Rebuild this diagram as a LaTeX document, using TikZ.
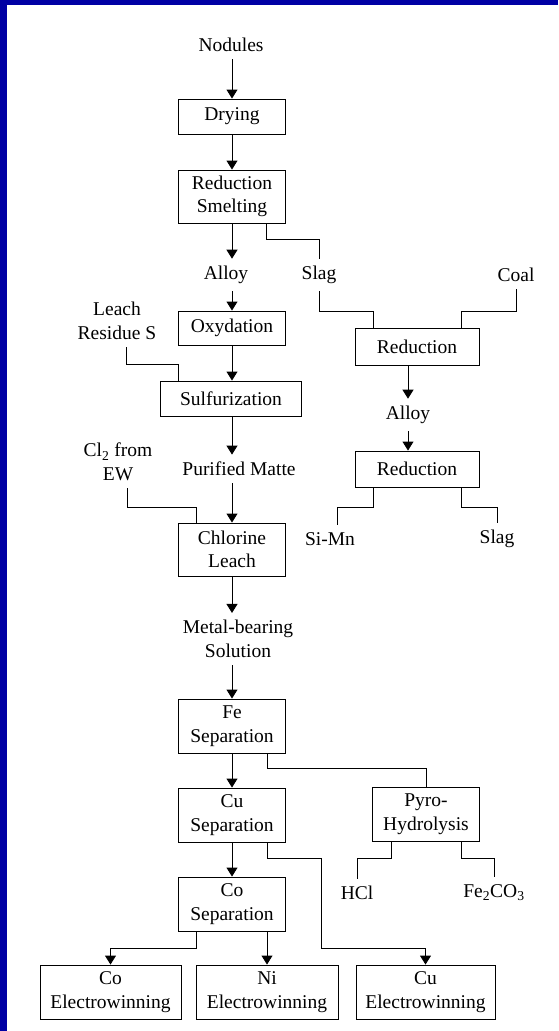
\documentclass[tikz,border=0pt]{standalone}
\usepackage{fontspec}
\setmainfont{Liberation Serif}
\usetikzlibrary{arrows.meta}
\definecolor{frameblue}{RGB}{0,0,164}

\begin{document}
\begin{tikzpicture}[x=1pt,y=-1pt,
  font=\fontsize{19.5}{23.5}\selectfont,
  line width=0.9pt,
  >={Triangle[width=11pt,length=9pt]},
  box/.style={draw,rectangle,align=center,inner sep=0pt,minimum width=107pt,minimum height=54pt},
  txt/.style={align=center,inner sep=7pt}]
  \useasboundingbox (0,0) rectangle (558,1031);
  \fill[frameblue] (0,0) rectangle (7,1031);
  \fill[frameblue] (0,0) rectangle (558,5);

  \node[txt] (Nodules) at (231,45) {Nodules};
  \node[box,minimum height=35pt] (Drying) at (232,116.5) {Drying};
  \node[box,minimum height=53pt] (RedSmelt) at (232,196.5) {Reduction\\Smelting};
  \node[txt] (Alloy1) at (226,275) {Alloy};
  \node[txt] (Slag1) at (319,275) {Slag};
  \node[txt] (Coal) at (516,275) {Coal};
  \node[box,minimum height=34pt] (Oxyd) at (232,328) {Oxydation};
  \node[txt] (Leach) at (117,321) {Leach\\Residue S};
  \node[box,minimum width=141pt,minimum height=35pt] (Sulf) at (231,398.5) {Sulfurization};
  \node[txt] (Matte) at (239,469) {Purified Matte};
  \node[txt] (Cl2) at (118,462) {Cl\textsubscript{2} from\\EW};
  \node[box,minimum height=53pt] (Chlor) at (232,549.5) {Chlorine\\Leach};
  \node[txt] (Metal) at (238,639) {Metal-bearing\\Solution};

  \node[box,minimum width=124pt,minimum height=37pt] (RedA) at (417,346.5) {Reduction};
  \node[txt] (Alloy2) at (408,415) {Alloy};
  \node[box,minimum width=124pt,minimum height=36pt] (RedB) at (417,469) {Reduction};
  \node[txt] (SiMn) at (330,539) {Si-Mn};
  \node[txt] (Slag2) at (497,539) {Slag};

  \node[box] (FeSep) at (232,726) {Fe\\Separation};
  \node[box] (CuSep) at (232,815) {Cu\\Separation};
  \node[box] (CoSep) at (232,904) {Co\\Separation};
  \node[box] (Pyro) at (426,814) {Pyro-\\Hydrolysis};
  \node[txt] (HCl) at (357,893) {HCl};
  \node[txt] (FeCO) at (494,893) {Fe\textsubscript{2}CO\textsubscript{3}};
  \node[box,minimum width=141pt] (CoEW) at (110.5,992) {Co\\Electrowinning};
  \node[box,minimum width=142pt] (NiEW) at (267,992) {Ni\\Electrowinning};
  \node[box,minimum width=139pt] (CuEW) at (425.5,992) {Cu\\Electrowinning};

  \draw[->] (Drying.north |- Nodules.south) -- (Drying.north);
  \draw[->] (Drying.south) -- (RedSmelt.north);
  \draw[->] (RedSmelt.south) -- (RedSmelt.south |- Alloy1.north);
  \draw ([xshift=34pt]RedSmelt.south) -- ++(0,16) -| (Slag1.north);
  \draw[->] (Oxyd.north |- Alloy1.south) -- (Oxyd.north);
  \draw (Slag1.south) |- (373,311) -- ([xshift=-44pt]RedA.north);
  \draw (Coal.south) |- (461,311) -- ([xshift=44pt]RedA.north);
  \draw[->] (Oxyd.south) -- (Oxyd.south |- Sulf.north);
  \draw ([xshift=9pt]Leach.south) |- (178,364) -- ([xshift=-53pt]Sulf.north);
  \draw[->] (Chlor.north |- Sulf.south) -- (Chlor.north |- Matte.north);
  \draw[->] (Chlor.north |- Matte.south) -- (Chlor.north);
  \draw ([xshift=9pt]Cl2.south) |- (196,507) -- ([xshift=-36pt]Chlor.north);
  \draw[->] (Chlor.south) -- (Chlor.south |- Metal.north);
  \draw[->] (FeSep.north |- Metal.south) -- (FeSep.north);

  \draw[->] (Alloy2.north |- RedA.south) -- (Alloy2.north);
  \draw[->] (Alloy2.south) -- (Alloy2.south |- RedB.north);
  \draw ([xshift=-44pt]RedB.south) -- ++(0,20) -| ([xshift=7pt]SiMn.north);
  \draw ([xshift=44pt]RedB.south) -- ++(0,20) -| (Slag2.north);

  \draw[->] (FeSep.south) -- (CuSep.north);
  \draw ([xshift=35pt]FeSep.south) -- ++(0,15) -| (Pyro.north);
  \draw ([xshift=-35pt]Pyro.south) -- ++(0,17) -| (HCl.north);
  \draw ([xshift=35pt]Pyro.south) -- ++(0,17) -| (FeCO.north);
  \draw[->] (CuSep.south) -- (CoSep.north);
  \draw[->] ([xshift=35pt]CuSep.south) -- ++(0,16) -| (321,948) -| (CuEW.north);
  \draw[->] ([xshift=-36pt]CoSep.south) -- ++(0,17) -| (CoEW.north);
  \draw[->] (NiEW.north |- CoSep.south) -- (NiEW.north);
\end{tikzpicture}
\end{document}
